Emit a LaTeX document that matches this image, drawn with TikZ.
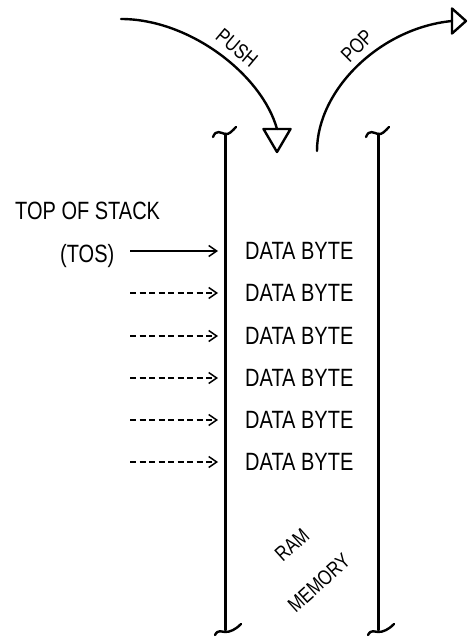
\documentclass[tikz,border=0pt]{standalone}
\usepackage{fontspec}
\setmainfont{Liberation Sans}[FakeStretch=0.8]
\usetikzlibrary{arrows.meta}

\begin{document}
\begin{tikzpicture}[x=1pt,y=-1pt,
    wall/.style={line width=3pt, line cap=round},
    flow/.style={line width=2.4pt, line cap=round, line join=round},
    ptr/.style={line width=1.5pt, -{Straight Barb[length=8pt,width=11pt,line width=1.5pt]}, shorten >=27pt},
    broken/.style={dash pattern=on 6pt off 3.5pt},
    lbl/.style={inner sep=0pt, font=\fontsize{25}{28}\selectfont},
    tag/.style={inner sep=0pt, font=\fontsize{21}{24}\selectfont}]
  \useasboundingbox (0,0) rectangle (467,639);
  \def\lx{225}
  \def\rx{378}

  % memory walls with break marks
  \foreach \x in {\lx,\rx} {
    \draw[wall] (\x,134) -- (\x,630);
    \draw[flow] (\x-12,137) .. controls (\x-9,129) and (\x-4,133) .. (\x,134)
                .. controls (\x+4,135) and (\x+7,131) .. (\x+11,127);
    \draw[flow] (\x-10,635) .. controls (\x-7,629) and (\x-3,632) .. (\x,632)
                .. controls (\x+5,632) and (\x+10,630) .. (\x+16,624);
  }

  % push and pop
  \coordinate (pushin) at (121,19);
  \coordinate (pushend) at (277,129);
  \coordinate (popstart) at (317,151);
  \coordinate (popout) at (452,21);
  \draw[flow] (pushin) .. controls (190,19) and (262,75) .. (pushend);
  \draw[flow] (pushend) ++(-13.5,0) -- ++(27,0) -- ++(-13.5,23) -- cycle;
  \draw[flow] (popstart) .. controls (317,90) and (380,28) .. (popout);
  \draw[flow] (popout) ++(0,-12.5) -- ++(0,25) -- ++(14,-12.5) -- cycle;
  \node[tag, rotate=-40] (push) at (237,48) {PUSH};
  \node[tag, rotate=45] (pop) at (357,46) {POP};

  % stack contents
  \node[lbl, anchor=base west] (top) at (15,219) {TOP OF STACK};
  \node[lbl, anchor=base west] (tos) at (60,262) {(TOS)};
  \foreach \i/\y in {1/251,2/293,3/336,4/378,5/420,6/462} {
    \node[lbl, anchor=west] (d\i) at (245,\y) {DATA BYTE};
    \coordinate (a\i) at (130,\y);
  }
  \draw[ptr] (a1) -- (d1.west);
  \foreach \i in {2,...,6}
    \draw[ptr, broken] (a\i) -- (d\i.west);

  \node[tag, rotate=42] (ram) at (292,545) {RAM};
  \node[tag, rotate=42] (mem) at (319,583) {MEMORY};
\end{tikzpicture}
\end{document}
